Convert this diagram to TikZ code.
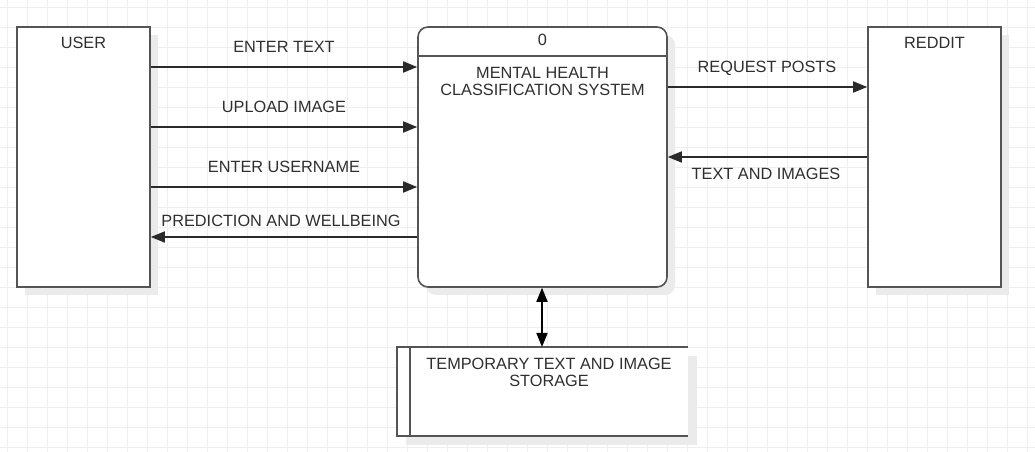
\documentclass[tikz,border=0pt]{standalone}
\usepackage{fontspec}
\setmainfont{Liberation Sans}
\usetikzlibrary{arrows.meta,calc}
\definecolor{gridc}{HTML}{EFEFEF}
\definecolor{boxc}{HTML}{555555}
\definecolor{linec}{HTML}{2A2A2A}
\definecolor{txtc}{HTML}{2F2F2F}
\definecolor{shadc}{HTML}{EBEBEB}
\tikzset{
  lbl/.style={text=txtc,font=\fontsize{16.3bp}{17bp}\selectfont,inner sep=0pt,align=center},
  boxline/.style={draw=boxc,line width=1.6bp},
  flow/.style={draw=linec,line width=1.7bp,-{Triangle[length=14bp,width=11bp]}},
  bflow/.style={draw=black,line width=1.7bp,{Triangle[length=14bp,width=11bp]}-{Triangle[length=14bp,width=11bp]}},
  shade/.style={fill=shadc,draw=none},
}
\begin{document}
\begin{tikzpicture}[x=1bp,y=-1bp]
\useasboundingbox (0,0) rectangle (1035,452);
\fill[white] (0,0) rectangle (1035,452);
% grid
\foreach \i in {0,...,51} {\draw[gridc,line width=0.8bp] (7.5+20*\i,0) -- (7.5+20*\i,452);}
\foreach \j in {0,...,22} {\draw[gridc,line width=0.8bp] (0,7.5+20*\j) -- (1035,7.5+20*\j);}
% shadows
\fill[shade] (25,35) rectangle (158,295);
\fill[shade,rounded corners=10bp] (426,35) rectangle (675,295);
\fill[shade] (876,35) rectangle (1009,295);
\fill[shade] (406,356) rectangle (697,445);
% USER
\node[boxline,fill=white,minimum width=133bp,minimum height=260bp,inner sep=0pt] (user) at (83.5,157) {};
\node[lbl,anchor=north] (usert) at ($(user.north)+(0,11)$) {USER};
% REDDIT
\node[boxline,fill=white,minimum width=133bp,minimum height=260bp,inner sep=0pt] (reddit) at (934.5,157) {};
\node[lbl,anchor=north] (redditt) at ($(reddit.north)+(0,11)$) {REDDIT};
% process
\node[boxline,fill=white,rounded corners=10bp,minimum width=249bp,minimum height=260bp,inner sep=0pt] (proc) at (542.5,157) {};
\draw[boxline] (proc.west |- 0,56) -- (proc.east |- 0,56);
\node[lbl] (pnum) at (542.5,40) {0};
\node[lbl,anchor=north] (ptitle) at (542.5,67) {MENTAL HEALTH\\CLASSIFICATION SYSTEM};
% storage
\coordinate (stl) at (397,347);
\coordinate (str) at (688,347);
\coordinate (sbl) at (397,436);
\coordinate (sbr) at (688,436);
\fill[white] (stl) rectangle (sbr);
\draw[boxline] (str) -- (stl) -- (sbl) -- (sbr);
\draw[boxline] (410,347) -- (410,436);
\node[lbl,anchor=north] (stor) at (549,358) {TEMPORARY TEXT AND IMAGE\\STORAGE};
\coordinate (stortop) at (542,347);
% flows
\draw[flow] (user.east |- 0,67) -- (proc.west |- 0,67);
\node[lbl] (l1) at (284,47) {ENTER TEXT};
\draw[flow] (user.east |- 0,127) -- (proc.west |- 0,127);
\node[lbl] (l2) at (284,107) {UPLOAD IMAGE};
\draw[flow] (user.east |- 0,187) -- (proc.west |- 0,187);
\node[lbl] (l3) at (284,167) {ENTER USERNAME};
\draw[flow] (proc.west |- 0,237) -- (user.east |- 0,237);
\node[lbl] (l4) at (281,221) {PREDICTION AND WELLBEING};
\draw[flow] (proc.east |- 0,87) -- (reddit.west |- 0,87);
\node[lbl] (l5) at (767,68) {REQUEST POSTS};
\draw[flow] (reddit.west |- 0,157) -- (proc.east |- 0,157);
\node[lbl] (l6) at (766,174) {TEXT AND IMAGES};
\draw[bflow] (proc.south -| stortop) -- (stortop);
\end{tikzpicture}
\end{document}
